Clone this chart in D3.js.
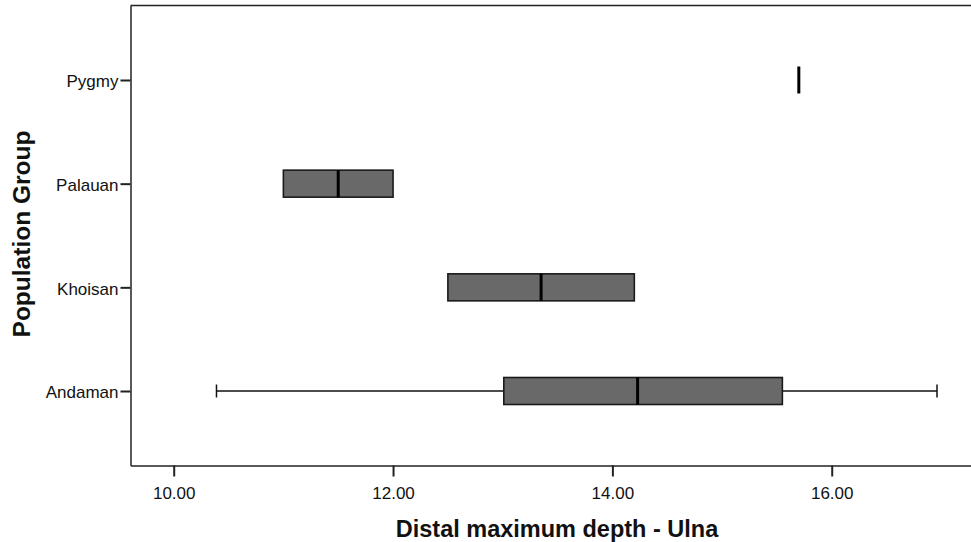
<!DOCTYPE html>
<html>
<head>
<meta charset="utf-8">
<script src="https://cdn.jsdelivr.net/npm/d3@7"></script>
<style>
  html, body { margin: 0; padding: 0; background: #fff; }
  svg { display: block; font-family: "Liberation Sans", Arial, Helvetica, sans-serif; }
</style>
</head>
<body>
<svg id="chart" width="971" height="542"></svg>
<script>
// Population groups, top to bottom
const groups = ["Pygmy", "Palauan", "Khoisan", "Andaman"];
// Five-number summaries of distal maximum depth (ulna)
const whiskerLow  = [15.70, 11.00, 12.50, 10.39];
const quartile1   = [15.70, 11.00, 12.50, 13.01];
const medians     = [15.70, 11.50, 13.35, 14.23];
const quartile3   = [15.70, 12.00, 14.20, 15.55];
const whiskerHigh = [15.70, 12.00, 14.20, 16.96];
const xTicks = [10, 12, 14, 16];

const svg = d3.select("#chart");
const plot = { left: 130.5, top: 5.5, right: 971, bottom: 465.5 };

const x = d3.scaleLinear().domain([9.606, 17.27]).range([plot.left, plot.right]);
const y = d3.scalePoint().domain(groups).range([plot.top, plot.bottom]).padding(0.7186);

const boxH = 27, capH = 13;
const rows = groups.map((g, i) => ({
  g, lo: whiskerLow[i], q1: quartile1[i], med: medians[i], q3: quartile3[i], hi: whiskerHigh[i]
}));

// Frame: top border line
svg.append("line").attr("x1", plot.left).attr("x2", plot.right)
  .attr("y1", plot.top).attr("y2", plot.top)
  .attr("stroke", "#222").attr("stroke-width", 1.5);

// Axes
const xAxis = d3.axisBottom(x).tickValues(xTicks).tickFormat(d3.format(".2f"))
  .tickSize(11).tickSizeOuter(0);
const gx = svg.append("g").attr("transform", `translate(0,${plot.bottom})`).call(xAxis);
gx.select(".domain").attr("stroke", "#222").attr("stroke-width", 1.5);
gx.selectAll(".tick line").attr("stroke", "#222").attr("stroke-width", 2);
gx.selectAll(".tick text").attr("font-size", 17).attr("fill", "#111")
  .attr("font-family", "Liberation Sans, Arial, sans-serif").attr("dy", "1.15em");

const yAxis = d3.axisLeft(y).tickSize(10).tickSizeOuter(0).tickPadding(2);
const gy = svg.append("g").attr("transform", `translate(${plot.left},0)`).call(yAxis);
gy.select(".domain").attr("stroke", "#222").attr("stroke-width", 1.5);
gy.selectAll(".tick line").attr("stroke", "#222").attr("stroke-width", 2);
gy.selectAll(".tick text").attr("font-size", 17).attr("fill", "#111")
  .attr("font-family", "Liberation Sans, Arial, sans-serif").attr("dy", "0.4em");

// Boxplots
const boxes = svg.append("g").selectAll("g").data(rows).join("g");

boxes.filter(d => d.hi > d.lo).each(function(d) {
  const g = d3.select(this), cy = y(d.g);
  // whiskers with end caps
  if (d.lo < d.q1) {
    g.append("line").attr("x1", x(d.lo)).attr("x2", x(d.q1)).attr("y1", cy).attr("y2", cy)
      .attr("stroke", "#111").attr("stroke-width", 1.3);
    g.append("line").attr("x1", x(d.lo)).attr("x2", x(d.lo))
      .attr("y1", cy - capH / 2).attr("y2", cy + capH / 2)
      .attr("stroke", "#111").attr("stroke-width", 1.5);
  }
  if (d.hi > d.q3) {
    g.append("line").attr("x1", x(d.q3)).attr("x2", x(d.hi)).attr("y1", cy).attr("y2", cy)
      .attr("stroke", "#111").attr("stroke-width", 1.3);
    g.append("line").attr("x1", x(d.hi)).attr("x2", x(d.hi))
      .attr("y1", cy - capH / 2).attr("y2", cy + capH / 2)
      .attr("stroke", "#111").attr("stroke-width", 1.5);
  }
  g.append("rect").attr("x", x(d.q1)).attr("y", cy - boxH / 2)
    .attr("width", x(d.q3) - x(d.q1)).attr("height", boxH)
    .attr("fill", "#696969").attr("stroke", "#1a1a1a").attr("stroke-width", 1.6);
});

// Median lines (single-value groups show only this line)
boxes.append("line")
  .attr("x1", d => x(d.med)).attr("x2", d => x(d.med))
  .attr("y1", d => y(d.g) - boxH / 2).attr("y2", d => y(d.g) + boxH / 2)
  .attr("stroke", "#000").attr("stroke-width", 3);

// Axis titles
svg.append("text").attr("x", 557).attr("y", 537).attr("text-anchor", "middle")
  .attr("font-size", 23.5).attr("font-weight", "bold").attr("fill", "#111")
  .text("Distal maximum depth - Ulna");

svg.append("text").attr("transform", "translate(30,234) rotate(-90)")
  .attr("text-anchor", "middle")
  .attr("font-size", 24.5).attr("font-weight", "bold").attr("fill", "#111")
  .text("Population Group");
</script>
</body>
</html>
